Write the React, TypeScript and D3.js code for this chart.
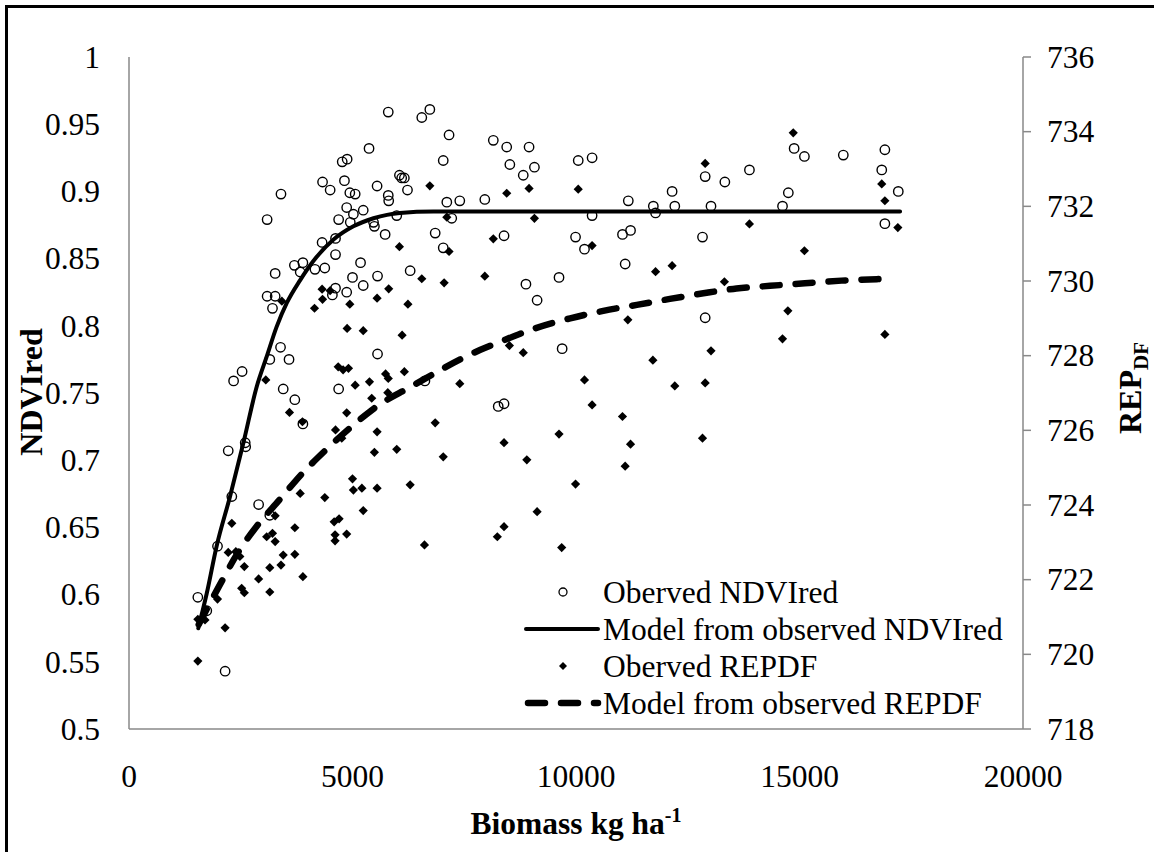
import React from "react";
import * as d3 from "d3";

// Observed NDVIred: [biomass kg/ha, NDVIred]
const ndviObserved: [number, number][] = [
  [5800, 0.959], [6550, 0.955], [6730, 0.961], [7160, 0.942], [8150, 0.938],
  [5370, 0.932], [7030, 0.923], [4770, 0.922], [4880, 0.924], [3400, 0.898],
  [4330, 0.907], [4500, 0.901], [4820, 0.908], [4940, 0.899], [5060, 0.898],
  [5550, 0.904], [6050, 0.912], [6100, 0.910], [6160, 0.910], [6230, 0.901],
  [5800, 0.897], [5810, 0.893], [7110, 0.892], [7400, 0.893], [7960, 0.894],
  [3090, 0.879], [4870, 0.888], [5020, 0.883], [5240, 0.886], [4690, 0.879],
  [4950, 0.877], [5470, 0.877], [5490, 0.874], [5990, 0.882], [5730, 0.868],
  [7220, 0.880], [6850, 0.869], [7030, 0.858], [4320, 0.862], [4620, 0.865],
  [4620, 0.853], [3270, 0.839], [3700, 0.845], [3890, 0.847], [3830, 0.840],
  [4160, 0.842], [4380, 0.843], [5180, 0.847], [5000, 0.836], [5560, 0.837],
  [5240, 0.830], [6290, 0.841], [3090, 0.822], [3270, 0.822], [3210, 0.813],
  [4620, 0.828], [4550, 0.823], [4870, 0.825], [3390, 0.784], [3150, 0.775],
  [3580, 0.775], [5560, 0.779], [2530, 0.766], [2340, 0.759], [6620, 0.759],
  [3450, 0.753], [4690, 0.753], [3710, 0.745], [3890, 0.727], [8260, 0.740],
  [8390, 0.742], [2220, 0.707], [2600, 0.713], [2610, 0.710], [2300, 0.673],
  [2900, 0.667], [3150, 0.659], [1980, 0.636], [1540, 0.598], [1740, 0.588],
  [2150, 0.543], [8450, 0.933], [8950, 0.933], [8520, 0.920], [8820, 0.912],
  [9070, 0.918], [10050, 0.923], [10360, 0.925], [8390, 0.867], [9990, 0.866],
  [10190, 0.857], [10360, 0.882], [11170, 0.893], [11040, 0.868], [11220, 0.871],
  [11730, 0.889], [11780, 0.884], [12150, 0.900], [12210, 0.889], [12890, 0.911],
  [13330, 0.907], [13020, 0.889], [12830, 0.866], [13880, 0.916], [14620, 0.889],
  [14750, 0.899], [14880, 0.932], [15110, 0.926], [11100, 0.846], [8880, 0.831],
  [9620, 0.836], [9130, 0.819], [12890, 0.806], [9690, 0.783], [15980, 0.927],
  [16910, 0.931], [16840, 0.916], [17210, 0.900], [16910, 0.876],
];

// Observed REPDF: [biomass kg/ha, REP nm]
const repObserved: [number, number][] = [
  [6730, 732.55], [7110, 731.71], [8150, 731.13], [6050, 730.92], [7160, 730.79],
  [6550, 730.06], [7050, 729.95], [7960, 730.13], [4320, 729.78], [4500, 729.74],
  [3420, 729.46], [4150, 729.27], [4330, 729.51], [4940, 729.38], [5550, 729.54],
  [5810, 729.79], [6240, 729.38], [4880, 728.73], [5240, 728.67], [6110, 728.55],
  [4680, 727.70], [4790, 727.62], [4910, 727.66], [5740, 727.51], [5800, 727.39],
  [6160, 727.57], [5060, 727.21], [5380, 727.30], [7400, 727.25], [3060, 727.35],
  [5430, 726.86], [5790, 727.01], [3590, 726.48], [4870, 726.47], [3880, 726.23],
  [4620, 726.01], [5550, 725.96], [4760, 725.79], [6850, 726.20], [5490, 725.41],
  [5990, 725.49], [7030, 725.29], [5000, 724.70], [5020, 724.40], [5210, 724.45],
  [5550, 724.45], [6290, 724.54], [3830, 724.31], [4380, 724.20], [5240, 723.85],
  [3270, 723.71], [2300, 723.51], [3710, 723.39], [4590, 723.55], [4700, 723.63],
  [3080, 723.15], [3210, 723.24], [3270, 723.02], [4610, 723.20], [4610, 723.04],
  [4870, 723.22], [6610, 722.93], [8240, 723.15], [2220, 722.73], [2390, 722.75],
  [2480, 722.62], [2580, 722.35], [3150, 722.32], [3450, 722.66], [3710, 722.68],
  [3400, 722.39], [2900, 722.02], [3890, 722.08], [2520, 721.77], [2580, 721.65],
  [3150, 721.67], [1980, 721.48], [1540, 720.94], [1700, 720.92], [2150, 720.71],
  [1540, 719.82], [14860, 733.97], [12890, 733.15], [8450, 732.35], [8950, 732.48],
  [10050, 732.46], [9070, 731.68], [10360, 730.95], [13880, 731.53], [15110, 730.81],
  [11780, 730.25], [12150, 730.41], [13320, 729.98], [14740, 729.20], [11160, 728.96],
  [14620, 728.45], [8510, 728.27], [8820, 728.08], [11720, 727.88], [13020, 728.13],
  [10190, 727.35], [12210, 727.19], [12890, 727.27], [10360, 726.68], [11040, 726.37],
  [9620, 725.90], [8390, 725.67], [11220, 725.63], [12830, 725.79], [8900, 725.21],
  [11100, 725.04], [9990, 724.56], [9130, 723.82], [8390, 723.42], [16840, 732.60],
  [16910, 732.15], [17200, 731.43], [16910, 728.57], [9680, 722.86],
];

// Fitted model for NDVIred
const ndviModel: [number, number][] = [
  [1550, 0.575], [1740, 0.601], [1960, 0.636], [2260, 0.673], [2560, 0.713],
  [2860, 0.755], [3080, 0.777], [3300, 0.799], [3530, 0.817], [3830, 0.834],
  [4120, 0.848], [4570, 0.864], [5020, 0.874], [5470, 0.880], [6060, 0.884],
  [6810, 0.885], [8000, 0.885], [12000, 0.885], [17250, 0.885],
];

// Fitted model for REPDF
const repModel: [number, number][] = [
  [1560, 720.8], [2040, 721.88], [2420, 722.69], [2870, 723.45], [3360, 724.13],
  [3880, 724.85], [4400, 725.47], [4980, 726.1], [5590, 726.68], [6250, 727.13],
  [7850, 728.15], [8300, 728.37], [9080, 728.73], [9870, 729.0], [10610, 729.2],
  [11360, 729.36], [12100, 729.52], [12850, 729.67], [13590, 729.8], [14340, 729.87],
  [15120, 729.94], [15940, 730.01], [16730, 730.05], [16990, 730.06],
];

const xTicks = [0, 5000, 10000, 15000, 20000];
const leftTicks = [0.5, 0.55, 0.6, 0.65, 0.7, 0.75, 0.8, 0.85, 0.9, 0.95, 1];
const rightTicks = [718, 720, 722, 724, 726, 728, 730, 732, 734, 736];

const legendItems = [
  "Oberved NDVIred",
  "Model from observed NDVIred",
  "Oberved REPDF",
  "Model from observed REPDF",
];

const W = 1154;
const H = 852;
const FONT = "Liberation Serif, Tinos, Times New Roman, DejaVu Serif, serif";
const AXIS = "#898989";
const FS = 31.5;

export default function App() {
  const x = d3.scaleLinear().domain([0, 20000]).range([129, 1023]);
  const yL = d3.scaleLinear().domain([0.5, 1]).range([729, 57]);
  const yR = d3.scaleLinear().domain([718, 736]).range([729, 57]);

  const ndviLine = d3
    .line<[number, number]>()
    .x((d) => x(d[0]))
    .y((d) => yL(d[1]))
    .curve(d3.curveMonotoneX);
  const repLine = d3
    .line<[number, number]>()
    .x((d) => x(d[0]))
    .y((d) => yR(d[1]))
    .curve(d3.curveMonotoneX);

  const diamond = (cx: number, cy: number, r: number) =>
    `M${cx},${cy - r}L${cx + r},${cy}L${cx},${cy + r}L${cx - r},${cy}Z`;

  const legX = 563;
  const legY = [592, 629, 666, 703];
  const txt = { fontFamily: FONT };

  return (
    <svg
      width={W}
      height={H}
      style={{ position: "absolute", left: 0, top: 0, background: "#fff", fontFamily: FONT }}
    >
      <rect x={0} y={0} width={W} height={H} fill="#fff" />
      {/* chart frame */}
      <rect x={6.5} y={6.5} width={W + 20} height={H + 20} fill="none" stroke="#000" strokeWidth={3} />

      {/* axes */}
      <line x1={129} y1={57} x2={129} y2={729} stroke={AXIS} strokeWidth={1.5} />
      <line x1={129} y1={729} x2={1023} y2={729} stroke={AXIS} strokeWidth={1.5} />
      <line x1={1023} y1={57} x2={1023} y2={729} stroke={AXIS} strokeWidth={1.5} />
      {rightTicks.map((t) => (
        <line key={t} x1={1023} x2={1031} y1={yR(t)} y2={yR(t)} stroke={AXIS} strokeWidth={1.5} />
      ))}

      {/* tick labels */}
      {leftTicks.map((t) => (
        <text key={t} style={txt} x={100} y={yL(t)} dy="0.34em" textAnchor="end" fontSize={FS}>
          {d3.format("~g")(t)}
        </text>
      ))}
      {rightTicks.map((t) => (
        <text key={t} style={txt} x={1047} y={yR(t)} dy="0.34em" textAnchor="start" fontSize={FS}>
          {t}
        </text>
      ))}
      {xTicks.map((t) => (
        <text key={t} style={txt} x={x(t)} y={787} textAnchor="middle" fontSize={FS}>
          {t}
        </text>
      ))}

      {/* axis titles */}
      <text style={txt} x={576} y={834} textAnchor="middle" fontSize={FS} fontWeight="bold">
        Biomass kg ha<tspan dy={-12} fontSize={20}>-1</tspan>
      </text>
      <text
        style={txt}
        transform="translate(42,392) rotate(-90)"
        textAnchor="middle"
        fontSize={32}
        fontWeight="bold"
      >
        NDVIred
      </text>
      <text
        style={txt}
        transform="translate(1141,388) rotate(-90)"
        textAnchor="middle"
        fontSize={32}
        fontWeight="bold"
      >
        REP<tspan dy={7} fontSize={21}>DF</tspan>
      </text>

      {/* observed NDVIred */}
      {ndviObserved.map((d, i) => (
        <circle key={i} cx={x(d[0])} cy={yL(d[1])} r={4.7} fill="none" stroke="#000" strokeWidth={1.4} />
      ))}
      {/* NDVIred model */}
      <path d={ndviLine(ndviModel) ?? ""} fill="none" stroke="#000" strokeWidth={4} strokeLinecap="round" />

      {/* observed REPDF */}
      {repObserved.map((d, i) => (
        <path key={i} d={diamond(x(d[0]), yR(d[1]), 4.6)} fill="#000" />
      ))}
      {/* REPDF model */}
      <path
        d={repLine(repModel) ?? ""}
        fill="none"
        stroke="#000"
        strokeWidth={6.5}
        strokeLinecap="round"
        strokeDasharray="17 16"
      />

      {/* legend */}
      <circle cx={legX} cy={legY[0]} r={4} fill="none" stroke="#000" strokeWidth={1.3} />
      <line x1={526} x2={598} y1={legY[1]} y2={legY[1]} stroke="#000" strokeWidth={4} strokeLinecap="round" />
      <path d={diamond(legX, legY[2], 4)} fill="#000" />
      <line
        x1={528}
        x2={598}
        y1={legY[3]}
        y2={legY[3]}
        stroke="#000"
        strokeWidth={6.5}
        strokeLinecap="round"
        strokeDasharray="17 16"
      />
      {legendItems.map((s, i) => (
        <text key={s} style={txt} x={603} y={legY[i]} dy="0.34em" fontSize={FS}>
          {s}
        </text>
      ))}
    </svg>
  );
}
